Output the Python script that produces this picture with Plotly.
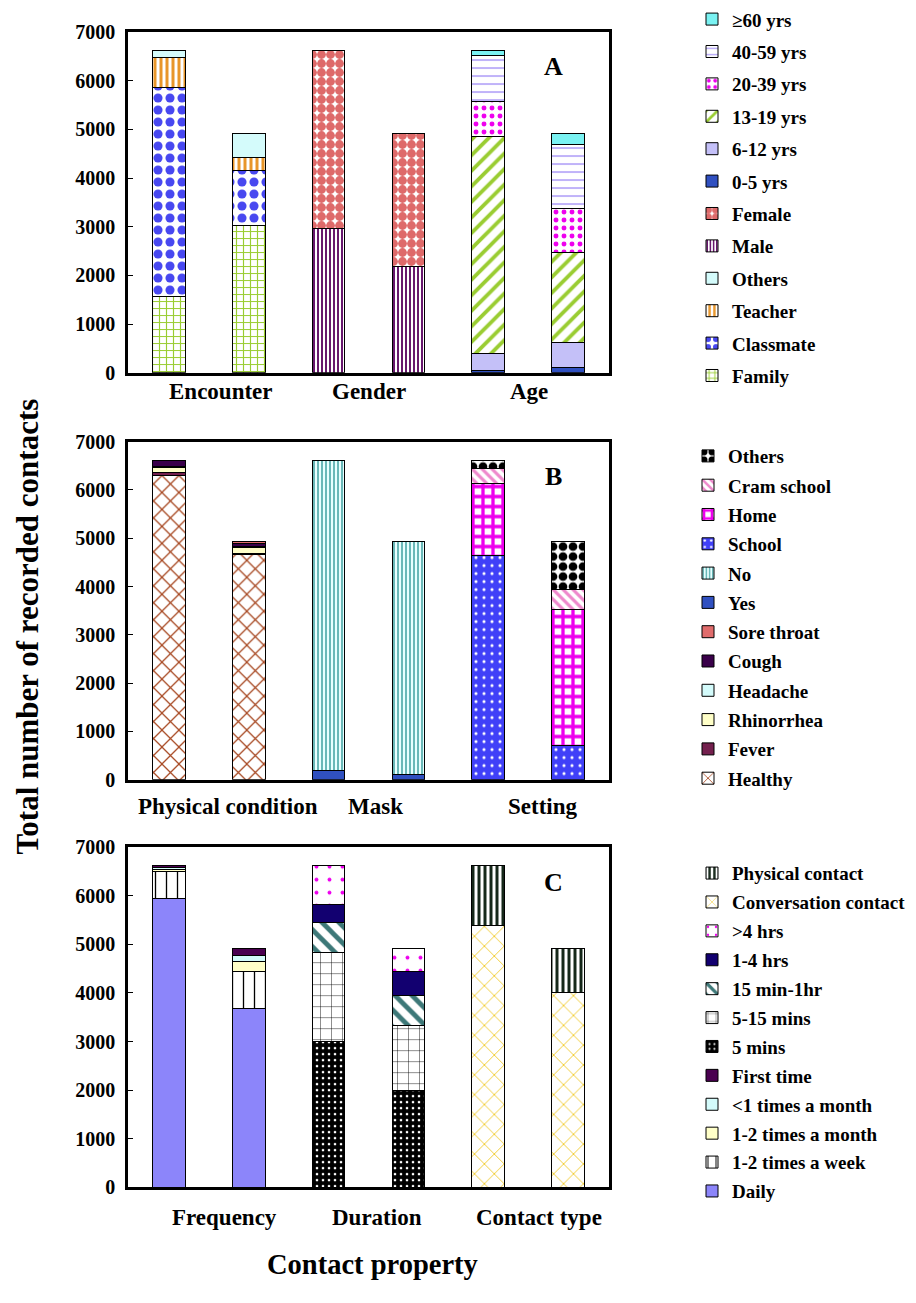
import plotly.graph_objects as go

W, H = 916, 1303
FONT = "Liberation Serif"

# ---------------- data ----------------
bar_pos = [0, 1]  # two bars per property group (pair index inside each group)

# Panel A
group_A = ["Encounter", "Gender", "Age"]
family = [1560, 3036]
classmate = [4300, 1129]
teacher = [610, 256]
others_enc = [145, 504]
male = [2956, 2183]
female = [3659, 2742]
age_0_5 = [52, 113]
age_6_12 = [336, 511]
age_13_19 = [4476, 1841]
age_20_39 = [706, 907]
age_40_59 = [948, 1312]
age_60 = [97, 241]

# Panel B
group_B = ["Physical condition", "Mask", "Setting"]
healthy = [6300, 4665]
fever = [60, 20]
rhinorrhea = [100, 115]
headache = [20, 25]
cough = [125, 60]
sore_throat = [10, 40]
mask_yes = [194, 120]
mask_no = [6421, 4805]
school = [4649, 716]
home = [1483, 2809]
cram_school = [305, 413]
others_set = [178, 987]

# Panel C
group_C = ["Frequency", "Duration", "Contact type"]
daily = [5950, 3678]
week_1_2 = [555, 774]
month_1_2 = [40, 189]
month_lt1 = [35, 121]
first_time = [35, 163]
min_5 = [2999, 1989]
min_5_15 = [1830, 1339]
min15_1hr = [612, 620]
hr_1_4 = [377, 491]
hr_gt4 = [797, 486]
conversation = [5388, 4015]
physical = [1227, 910]

y_ticks = [0, 1000, 2000, 3000, 4000, 5000, 6000, 7000]

# ---------------- layout geometry (px) ----------------
x_left, x_right = 128, 609
panels = {
    1: (19.4, 366.6),
    2: (436.6, 781.2),
    3: (849.8, 1196.5),
}

def py(v):
    return 1 - v / H

fig = go.Figure()
rank = [1000]

def add(name, vals, group_idx, panel, legend, color, shape="", fg=None, bg=None, size=8, sol=0.3):
    xs = [group_idx * 2 + p for p in bar_pos]
    marker = dict(color=color, line=dict(color="black", width=1))
    if shape:
        marker["pattern"] = dict(shape=shape, fgcolor=fg if fg else color,
                                 bgcolor=bg if bg else "white", size=size,
                                 solidity=sol, fillmode="replace")
    rank[0] -= 1
    fig.add_trace(go.Bar(
        x=xs, y=vals, name=name, width=0.41, marker=marker,
        xaxis="x" if panel == 1 else f"x{panel}",
        yaxis="y" if panel == 1 else f"y{panel}",
        legend=legend, legendgroup=name + str(panel), legendrank=rank[0],
        showlegend=True,
    ))

# Panel A traces (bottom to top)
add("Family", family, 0, 1, "legend", "#9acd32", "+", "#9acd32", "white", 7, 0.3)
add("Classmate", classmate, 0, 1, "legend", "#4848f0", ".", "#4848f0", "white", 12, 0.45)
add("Teacher", teacher, 0, 1, "legend", "#e8962a", "|", "#e8962a", "white", 6, 0.5)
add("Others", others_enc, 0, 1, "legend", "#d4fbfb")
add("Male", male, 1, 1, "legend", "#68186e", "|", "#68186e", "white", 4, 0.5)
add("Female", female, 1, 1, "legend", "#de6a6a", ".", "#de6a6a", "white", 9, 0.75)
add("0-5 yrs", age_0_5, 2, 1, "legend", "#3050c0")
add("6-12 yrs", age_6_12, 2, 1, "legend", "#c4c0f8")
add("13-19 yrs", age_13_19, 2, 1, "legend", "#9acd32", "/", "#9acd32", "white", 11, 0.35)
add("20-39 yrs", age_20_39, 2, 1, "legend", "#ee00ee", ".", "#ee00ee", "white", 8, 0.3)
add("40-59 yrs", age_40_59, 2, 1, "legend", "#b0a0f8", "-", "#b0a0f8", "white", 8, 0.2)
add("\u226560 yrs", age_60, 2, 1, "legend", "#7af2f2")

# Panel B traces
add("Healthy", healthy, 0, 2, "legend2", "#a84a24", "x", "#a84a24", "white", 12, 0.2)
add("Fever", fever, 0, 2, "legend2", "#74204e")
add("Rhinorrhea", rhinorrhea, 0, 2, "legend2", "#ffffc8")
add("Headache", headache, 0, 2, "legend2", "#d4fbfb")
add("Cough", cough, 0, 2, "legend2", "#3a004a")
add("Sore throat", sore_throat, 0, 2, "legend2", "#e06c6c")
add("Yes", mask_yes, 1, 2, "legend2", "#3050c0")
add("No", mask_no, 1, 2, "legend2", "#9fd8d8", "|", "#5cb0b0", "#e8ffff", 4, 0.45)
add("School", school, 2, 2, "legend2", "#4040f8", ".", "white", "#4040f8", 8, 0.12)
add("Home", home, 2, 2, "legend2", "#ee00ee", "+", "#ee00ee", "white", 10, 0.55)
add("Cram school", cram_school, 2, 2, "legend2", "#ee88cc", "\\", "#ee88cc", "white", 7, 0.45)
add("Others", others_set, 2, 2, "legend2", "#000000", ".", "black", "white", 10, 0.6)

# Panel C traces
add("Daily", daily, 0, 3, "legend3", "#8c85fa")
add("1-2 times a week", week_1_2, 0, 3, "legend3", "#000000", "|", "black", "white", 11, 0.12)
add("1-2 times a month", month_1_2, 0, 3, "legend3", "#ffffc8")
add("<1 times a month", month_lt1, 0, 3, "legend3", "#d4fbfb")
add("First time", first_time, 0, 3, "legend3", "#4a0050")
add("5 mins", min_5, 1, 3, "legend3", "#000000", ".", "white", "black", 6, 0.15)
add("5-15 mins", min_5_15, 1, 3, "legend3", "#000000", "+", "black", "white", 11, 0.08)
add("15 min-1hr", min15_1hr, 1, 3, "legend3", "#3d7878", "\\", "#3d7878", "white", 12, 0.4)
add("1-4 hrs", hr_1_4, 1, 3, "legend3", "#120070")
add(">4 hrs", hr_gt4, 1, 3, "legend3", "#ee00ee", ".", "#ee00ee", "white", 13, 0.07)
add("Conversation contact", conversation, 2, 3, "legend3", "#f0c820", "x", "#f0c820", "white", 14, 0.12)
add("Physical contact", physical, 2, 3, "legend3", "#16281a", "|", "#16281a", "white", 6, 0.5)

# ---------------- axes ----------------
axis_common_x = dict(range=[-0.51, 5.51], showticklabels=False, ticks="", showgrid=False,
                     zeroline=False, showline=True, mirror=True, linecolor="black",
                     linewidth=2.5, domain=[x_left / W, x_right / W], fixedrange=True)
axis_common_y = dict(range=[0, 7000], tickvals=y_ticks, ticks="inside", ticklen=5,
                     tickwidth=1, tickcolor="black", showgrid=False, zeroline=False,
                     showline=True, mirror=True, linecolor="black", linewidth=2.5,
                     tickfont=dict(family=FONT, size=20, color="black", weight="bold"),
                     ticklabelstandoff=6)

layout = dict(
    width=W, height=H, margin=dict(l=0, r=0, t=0, b=0),
    paper_bgcolor="white", plot_bgcolor="white", barmode="stack",
    font=dict(family=FONT, color="black"),
)
for i in (1, 2, 3):
    top, bot = panels[i]
    sx = "" if i == 1 else str(i)
    layout[f"xaxis{sx}"] = dict(axis_common_x, anchor=f"y{sx}")
    layout[f"yaxis{sx}"] = dict(axis_common_y, anchor=f"x{sx}", domain=[py(bot), py(top)])

legend_common = dict(font=dict(family=FONT, size=19, color="black", weight="bold"),
                     xanchor="left", yanchor="top", bgcolor="rgba(0,0,0,0)",
                     traceorder="grouped", itemclick=False, itemdoubleclick=False)
layout["legend"] = dict(legend_common, x=692 / W, y=py(-13), tracegroupgap=4.7)
layout["legend2"] = dict(legend_common, x=688 / W, y=py(432), tracegroupgap=1.6)
layout["legend3"] = dict(legend_common, x=692 / W, y=py(857), tracegroupgap=1.2)

fig.update_layout(**layout)

# ---------------- annotations ----------------
ann = []
group_label_x = {1: [0.66, 2.51, 4.51], 2: [0.74, 2.59, 4.69], 3: [0.70, 2.61, 4.63]}
group_label_y = {1: 386, 2: 808, 3: 1227}
groups = {1: group_A, 2: group_B, 3: group_C}
for i in (1, 2, 3):
    sx = "" if i == 1 else str(i)
    for gx, gname in zip(group_label_x[i], groups[i]):
        ann.append(dict(x=gx, y=py(group_label_y[i]), xref=f"x{sx}", yref="paper",
                        text=gname, showarrow=False, xanchor="center", yanchor="middle",
                        font=dict(family=FONT, size=23, color="black", weight="bold")))
for i, letter, yy in ((1, "A", 55), (2, "B", 472), (3, "C", 886)):
    ann.append(dict(x=553 / W, y=py(yy), xref="paper", yref="paper", text=letter,
                    showarrow=False, xanchor="center", yanchor="middle",
                    font=dict(family=FONT, size=26, color="black", weight="bold")))
ann.append(dict(x=27 / W, y=py(625), xref="paper", yref="paper",
                text="Total number of recorded contacts", textangle=-90, showarrow=False,
                xanchor="center", yanchor="middle",
                font=dict(family=FONT, size=31, color="black", weight="bold")))
ann.append(dict(x=372 / W, y=py(1275), xref="paper", yref="paper",
                text="Contact property", showarrow=False, xanchor="center", yanchor="middle",
                font=dict(family=FONT, size=28.5, color="black", weight="bold")))
fig.update_layout(annotations=ann)

fig.write_html("out.html")
